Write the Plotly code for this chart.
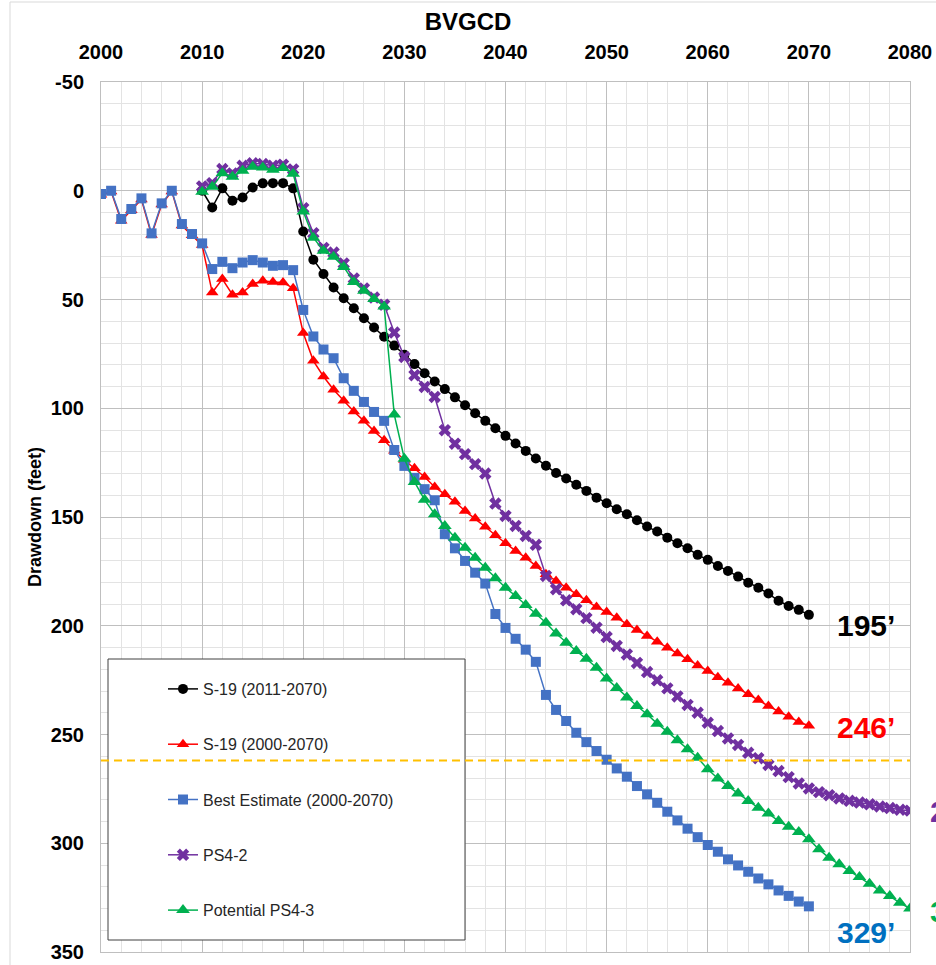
import plotly.graph_objects as go

# ---------------- data ----------------
years_s19_2011 = list(range(2010, 2071))
s19_2011 = [0, 7.7, -1.1, 4.6, 3.1, -1.5, -3.4, -3.5, -3.5, -1.1,
            18.7, 31.7, 38.3, 44.5, 49.4, 54.0, 58.6, 62.9, 67.1, 71.2,
            75.4, 79.7, 83.9, 87.7, 91.2, 95.0, 98.6, 102.3, 105.8, 109.2,
            112.7, 116.2, 119.6, 123.1, 126.4, 129.8, 132.3, 135.2, 138.0, 141.1,
            143.7, 146.4, 148.7, 151.5, 154.4, 156.7, 159.5, 162.1, 164.4, 167.4,
            169.7, 172.5, 174.8, 177.4, 180.2, 182.5, 185.2, 188.5, 190.9, 192.7,
            195.0]

years_s19_2000 = list(range(2000, 2071))
s19_2000 = [1.8, 0.3, 13.8, 9.0, 4.0, 20.4, 6.3, 0.3, 16.0, 20.5,
            25.0, 46.8, 40.6, 47.8, 46.8, 42.9, 41.4, 41.9, 42.2, 44.8,
            65.4, 78.2, 85.4, 91.5, 96.6, 101.5, 105.8, 110.5, 114.7, 119.5,
            123.8, 127.6, 131.6, 136.2, 139.5, 143.0, 147.2, 150.7, 154.5, 158.4,
            162.1, 165.6, 168.7, 172.5, 176.3, 179.4, 182.5, 185.5, 188.3, 191.4,
            193.7, 196.3, 199.3, 201.9, 204.7, 207.3, 210.1, 212.8, 215.4, 218.3,
            220.8, 223.7, 226.2, 228.9, 231.5, 234.1, 236.9, 239.4, 241.8, 244.2,
            246.0]

years_best = list(range(2000, 2071))
best_est = [1.5, 0.0, 13.0, 8.4, 3.5, 19.6, 5.8, 0.0, 15.3, 19.9,
            24.2, 36.0, 32.7, 35.6, 33.0, 31.9, 33.0, 34.5, 34.2, 36.5,
            54.8, 67.0, 73.0, 77.0, 86.2, 92.0, 97.1, 101.7, 105.8, 119.2,
            126.5, 132.0, 137.2, 142.3, 157.9, 164.4, 170.2, 175.6, 180.6, 194.6,
            201.0, 206.0, 211.0, 216.6, 231.8, 238.7, 243.8, 249.2, 253.5, 257.6,
            261.6, 265.6, 269.4, 273.7, 277.5, 281.4, 285.5, 289.5, 293.3, 297.2,
            300.8, 303.9, 307.4, 310.2, 313.1, 316.2, 318.9, 321.7, 324.2, 326.8,
            329.0]

years_ps42 = list(range(2010, 2081))
ps4_2 = [-2.0, -3.5, -10.0, -8.0, -11.5, -12.6, -12.3, -11.5, -12.0, -9.8,
         8.0, 19.5, 26.3, 28.4, 33.4, 40.3, 44.9, 49.1, 52.4, 65.2,
         76.4, 84.8, 90.2, 94.8, 110.1, 116.3, 121.1, 125.7, 130.0, 143.8,
         149.5, 154.1, 158.7, 162.8, 177.1, 183.2, 188.3, 192.4, 196.5, 200.9,
         205.2, 209.3, 213.2, 217.1, 221.3, 225.1, 228.8, 232.5, 236.4, 240.0,
         244.6, 248.4, 251.8, 254.8, 258.4, 260.9, 264.0, 266.8, 269.6, 272.5,
         274.8, 276.5, 277.9, 279.4, 280.5, 281.3, 282.1, 283.1, 283.8, 284.6,
         285.0]

years_ps43 = list(range(2010, 2081))
ps4_3 = [0.5, -1.8, -8.1, -6.4, -9.2, -11.0, -10.7, -9.7, -10.5, -7.8,
         9.5, 21.6, 27.6, 30.4, 35.0, 41.9, 46.0, 49.8, 53.2, 102.9,
         123.2, 133.9, 142.1, 148.7, 154.1, 159.5, 164.1, 168.7, 173.3, 178.2,
         182.5, 186.3, 190.5, 194.5, 198.6, 203.6, 207.8, 211.6, 215.2, 219.3,
         224.3, 228.6, 233.0, 236.9, 240.7, 245.0, 248.7, 252.7, 256.8, 260.7,
         266.0, 270.2, 273.7, 277.1, 280.6, 283.7, 286.3, 289.8, 292.4, 294.8,
         298.2, 302.8, 306.7, 309.7, 312.8, 315.5, 318.6, 321.7, 324.3, 327.4,
         330.0]

threshold = 262

x_ticks = [2000, 2010, 2020, 2030, 2040, 2050, 2060, 2070, 2080]
y_ticks = [-50, 0, 50, 100, 150, 200, 250, 300, 350]

end_labels = ["195\u2019", "246\u2019", "329\u2019", "284\u2019", "330\u2019"]

# ---------------- layout geometry (pixels) ----------------
W, H = 936, 965
ML, MR, MT, MB = 101, 26, 82, 13
PW, PH = W - ML - MR, H - MT - MB


def px(xp):
    return (xp - ML) / PW


def py(yp):
    return 1 - (yp - MT) / PH


FONT = "Liberation Sans, Arial, sans-serif"

fig = go.Figure()

series = [
    ("S-19 (2011-2070)", years_s19_2011, s19_2011, "#000000", "circle", 10),
    ("S-19 (2000-2070)", years_s19_2000, s19_2000, "#FF0000", "triangle-up", 11),
    ("Best Estimate (2000-2070)", years_best, best_est, "#4472C4", "square", 10),
    ("PS4-2", years_ps42, ps4_2, "#7030A0", "x", 11),
    ("Potential PS4-3", years_ps43, ps4_3, "#00B050", "triangle-up", 12),
]
for i, (name, xs, ys, col, sym, sz) in enumerate(series):
    fig.add_trace(go.Scatter(
        x=xs, y=ys, name=name, mode="lines+markers",
        line=dict(color=col, width=1.5),
        marker=dict(color=col, symbol=sym, size=sz, line=dict(width=0)),
        legendgroup=f"g{i}",
    ))

shapes = [
    # legend frame (white box over the grid)
    dict(type="rect", xref="paper", yref="paper",
         x0=px(108), x1=px(465), y0=py(940), y1=py(659),
         fillcolor="white", line=dict(color="#404040", width=1), layer="above"),
    # threshold line
    dict(type="line", xref="x", yref="y", x0=2000, x1=2080, y0=threshold, y1=threshold,
         line=dict(color="#FFC000", width=2, dash="8px,5px"), layer="above"),
    # chart-area border
    dict(type="rect", xref="paper", yref="paper",
         x0=px(10), x1=px(945), y0=py(975), y1=py(2),
         line=dict(color="#D9D9D9", width=1), layer="below"),
]

label_pos = [
    (835, 625, "#000000"),
    (835, 727, "#FF0000"),
    (835, 932, "#0070C0"),
    (928, 811, "#7030A0"),
    (928, 911, "#00B050"),
]
annotations = []
for txt, (lx, ly, col) in zip(end_labels, label_pos):
    annotations.append(dict(
        text=f"<b>{txt}</b>", xref="paper", yref="paper", x=px(lx), y=py(ly),
        xanchor="left", yanchor="middle", showarrow=False,
        font=dict(family=FONT, size=30, color=col)))

annotations.append(dict(
    text="<b>Drawdown (feet)</b>", xref="paper", yref="paper",
    x=px(35), y=py(517), textangle=-90, showarrow=False,
    xanchor="center", yanchor="middle",
    font=dict(family=FONT, size=18, color="#000000")))

fig.update_layout(
    width=W, height=H,
    margin=dict(l=ML, r=MR, t=MT, b=MB, autoexpand=False),
    paper_bgcolor="white", plot_bgcolor="white",
    title=dict(text="<b>BVGCD</b>", x=0.5, xref="container", xanchor="center",
               y=1 - 22 / H, yref="container", yanchor="middle",
               font=dict(family=FONT, size=24, color="#000000")),
    showlegend=True,
    legend=dict(x=px(163), y=py(672), xanchor="left", yanchor="top",
                bgcolor="rgba(0,0,0,0)", borderwidth=0,
                tracegroupgap=31.5,
                font=dict(family=FONT, size=16, color="#262626")),
    shapes=shapes,
    annotations=annotations,
)

fig.update_xaxes(
    side="top", range=[2000, 2080],
    tickvals=x_ticks, ticktext=[f"<b>{v}</b>" for v in x_ticks],
    showgrid=True, gridcolor="#BFBFBF", gridwidth=1,
    minor=dict(dtick=2, tick0=2000, showgrid=True, gridcolor="#E3E3E3", gridwidth=1),
    showline=True, linecolor="#BFBFBF", linewidth=1, mirror=True,
    ticks="", zeroline=False, ticklabelstandoff=14, automargin=False,
    tickfont=dict(family=FONT, size=20, color="#000000"),
)
fig.update_yaxes(
    range=[350, -50],
    tickvals=y_ticks, ticktext=[f"<b>{v}</b>" for v in y_ticks],
    showgrid=True, gridcolor="#BFBFBF", gridwidth=1,
    minor=dict(dtick=10, tick0=0, showgrid=True, gridcolor="#E3E3E3", gridwidth=1),
    showline=True, linecolor="#BFBFBF", linewidth=1, mirror=True,
    ticks="", zeroline=False, ticklabelstandoff=12, automargin=False,
    tickfont=dict(family=FONT, size=20, color="#000000"),
)

fig.write_html(
    "out.html",
    config={"displayModeBar": False},
    post_script="document.body.style.margin='0';document.body.style.overflow='hidden';",
)
